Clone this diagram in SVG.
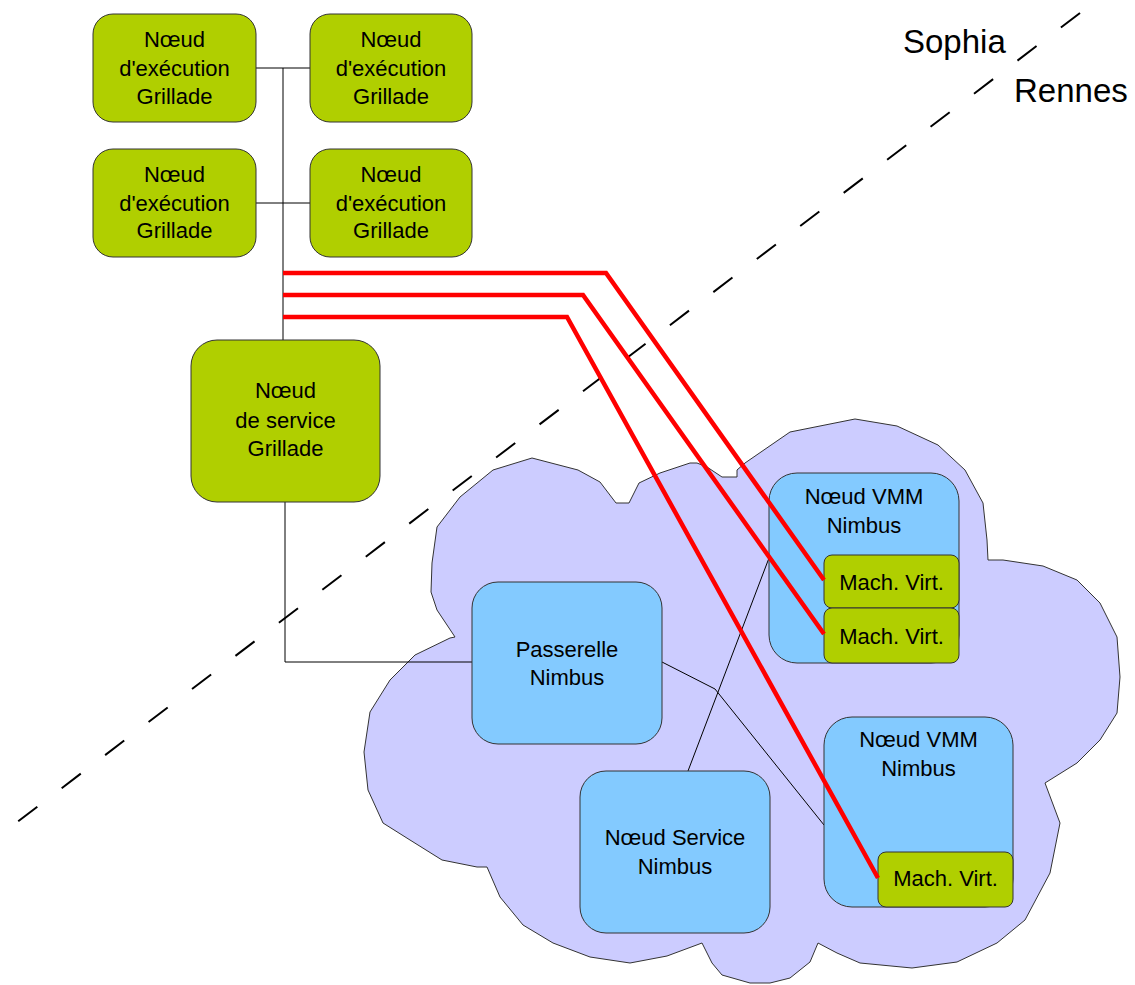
<svg xmlns="http://www.w3.org/2000/svg" width="1135" height="985" viewBox="0 0 1135 985">
<style>
text{font-family:"Liberation Sans",Arial,sans-serif;font-size:22px;fill:#000;text-anchor:middle}
.big{font-size:33px;text-anchor:start}
.green{fill:#b0cf00;stroke:#333;stroke-width:1}
.blue{fill:#83caff;stroke:#333;stroke-width:1}
.thin{fill:none;stroke:#000;stroke-width:1}
.red{fill:none;stroke:#ff0000;stroke-width:4.5;stroke-linejoin:miter}
</style>
<rect width="1135" height="985" fill="#fff"/>
<g id="cloud">
<polygon fill="#ccccff" stroke="#333" stroke-width="1" points="432,563 437,527 460,497 493,470 532,458 578,470 600,482 616,503 629,503 639,483 660,473 690,463 697,463 707,467 722,477 737,477 737,470 745,463 790,432 855,419 897,426 938,445 965,470 983,503 987,540 988,560 1003,560 1043,566 1077,580 1100,603 1117,637 1120,677 1117,713 1100,740 1077,763 1045,783 1060,823 1050,873 1025,920 997,943 957,962 912,968 860,963 837,953 818,943 810,962 790,978 770,983 750,983 722,975 712,963 702,943 667,956 630,963 590,957 553,943 523,925 500,897 487,867 477,867 442,860 410,840 383,823 368,790 364,752 370,712 390,680 415,655 450,638 455,637 437,610 431,592"/>
</g>
<g id="boundary">
<line x1="1080" y1="13" x2="12" y2="826" stroke="#000" stroke-width="2" stroke-dasharray="24,30.6"/>
<text class="big" x="903" y="53">Sophia</text>
<text class="big" x="1014" y="102">Rennes</text>
</g>
<g id="connectors-thin">
<polyline class="thin" points="256,68 310,68"/>
<polyline class="thin" points="256,203 310,203"/>
<polyline class="thin" points="283,68 283,340"/>
<polyline class="thin" points="285,502 285,662 472,662"/>
<polyline class="thin" points="662,662 715,689 824,825"/>
<polyline class="thin" points="688,771 769,558"/>
</g>
<g id="exec1"><rect class="green" x="93" y="14" width="163" height="108" rx="20"/><text x="174.5" y="47">Nœud</text><text x="174.5" y="76">d'exécution</text><text x="174.5" y="104">Grillade</text></g>
<g id="exec2"><rect class="green" x="310" y="14" width="162" height="108" rx="20"/><text x="391" y="47">Nœud</text><text x="391" y="76">d'exécution</text><text x="391" y="104">Grillade</text></g>
<g id="exec3"><rect class="green" x="93" y="149" width="163" height="108" rx="20"/><text x="174.5" y="182">Nœud</text><text x="174.5" y="211">d'exécution</text><text x="174.5" y="238">Grillade</text></g>
<g id="exec4"><rect class="green" x="310" y="149" width="162" height="108" rx="20"/><text x="391" y="182">Nœud</text><text x="391" y="211">d'exécution</text><text x="391" y="238">Grillade</text></g>
<g id="service-grillade"><rect class="green" x="191" y="340" width="189" height="162" rx="26"/><text x="285.5" y="398">Nœud</text><text x="285.5" y="428">de service</text><text x="285.5" y="456">Grillade</text></g>
<g id="passerelle"><rect class="blue" x="472" y="582" width="190" height="162" rx="26"/><text x="567" y="657">Passerelle</text><text x="567" y="685">Nimbus</text></g>
<g id="service-nimbus"><rect class="blue" x="580" y="771" width="190" height="162" rx="26"/><text x="675" y="845">Nœud Service</text><text x="675" y="874">Nimbus</text></g>
<g id="vmm1"><rect class="blue" x="769" y="473" width="190" height="190" rx="28"/><text x="864" y="504">Nœud VMM</text><text x="864" y="533">Nimbus</text></g>
<g id="vm1"><rect class="green" x="824" y="555" width="135" height="53" rx="8"/><text x="891.5" y="590">Mach. Virt.</text></g>
<g id="vm2"><rect class="green" x="824" y="608" width="135" height="55" rx="8"/><text x="891.5" y="644">Mach. Virt.</text></g>
<g id="vmm2"><rect class="blue" x="824" y="717" width="189" height="190" rx="28"/><text x="918.5" y="747">Nœud VMM</text><text x="918.5" y="776">Nimbus</text></g>
<g id="vm3"><rect class="green" x="878" y="852" width="135" height="55" rx="8"/><text x="945.5" y="886">Mach. Virt.</text></g>
<g id="connectors-red">
<polyline class="red" points="283,273 606,273 824,580"/>
<polyline class="red" points="283,295 583,295 824,634"/>
<polyline class="red" points="283,317 567,317 878,878"/>
</g>
</svg>
